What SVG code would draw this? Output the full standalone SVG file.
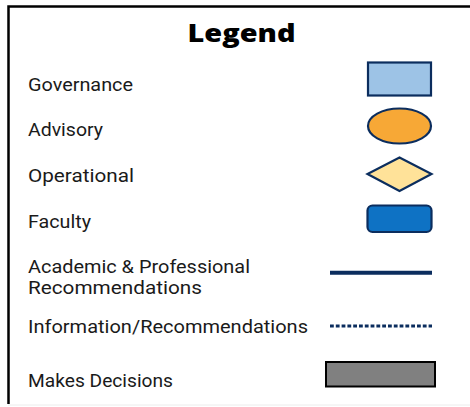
<svg xmlns="http://www.w3.org/2000/svg" width="470" height="407" viewBox="0 0 470 407">
<style>
.lbl{font-family:Roboto,"Open Sans","Liberation Sans",sans-serif;font-size:17.5px;fill:#1a1a1a}
.title{font-family:"Open Sans","Noto Sans","Liberation Sans",sans-serif;font-size:25.5px;font-weight:800;fill:#000}
.sym{stroke:#0b2d5e;stroke-width:2.2}
</style>
<rect width="470" height="407" fill="#fff"/>
<g id="frame">
<path d="M472,6.5 H8.5 V404" fill="none" stroke="#000" stroke-width="2.5"/>
<line x1="8" y1="405" x2="470" y2="405" stroke="#ececec" stroke-width="1"/>
</g>
<text class="title" x="241.5" y="41.7" text-anchor="middle" textLength="108" lengthAdjust="spacingAndGlyphs">Legend</text>
<g id="governance">
<text class="lbl" x="28" y="91" textLength="105" lengthAdjust="spacingAndGlyphs">Governance</text>
<rect class="sym" x="368" y="62.5" width="63" height="33" fill="#9dc3e6"/>
</g>
<g id="advisory">
<text class="lbl" x="28" y="136" textLength="75" lengthAdjust="spacingAndGlyphs">Advisory</text>
<ellipse class="sym" cx="399.5" cy="126" rx="31.5" ry="17.5" fill="#f7a836"/>
</g>
<g id="operational">
<text class="lbl" x="28" y="181.7" textLength="106" lengthAdjust="spacingAndGlyphs">Operational</text>
<polygon class="sym" points="399.5,157.5 431.5,174 399.5,191 367.5,174" fill="#ffe299"/>
</g>
<g id="faculty">
<text class="lbl" x="28" y="228.3" textLength="63" lengthAdjust="spacingAndGlyphs">Faculty</text>
<rect class="sym" x="367.5" y="205.5" width="64" height="26.5" rx="5" fill="#0e72c4"/>
</g>
<g id="connectors">
<line x1="330" y1="272.7" x2="432" y2="272.7" stroke="#0b2d5e" stroke-width="4"/>
<line x1="330" y1="326" x2="432" y2="326" stroke="#0b2d5e" stroke-width="3" stroke-dasharray="3.8 2"/>
</g>
<g id="academic">
<text class="lbl"><tspan x="28" y="272.8" textLength="222" lengthAdjust="spacingAndGlyphs">Academic &amp; Professional</tspan><tspan x="28" y="293.8" textLength="174" lengthAdjust="spacingAndGlyphs">Recommendations</tspan></text>
</g>
<g id="information">
<text class="lbl" x="28" y="333.3" textLength="280" lengthAdjust="spacingAndGlyphs">Information/Recommendations</text>
</g>
<g id="decisions">
<text class="lbl" x="28" y="387.3" textLength="145" lengthAdjust="spacingAndGlyphs">Makes Decisions</text>
<rect x="326" y="362" width="109" height="24.5" fill="#808080" stroke="#000" stroke-width="2"/>
</g>
</svg>
